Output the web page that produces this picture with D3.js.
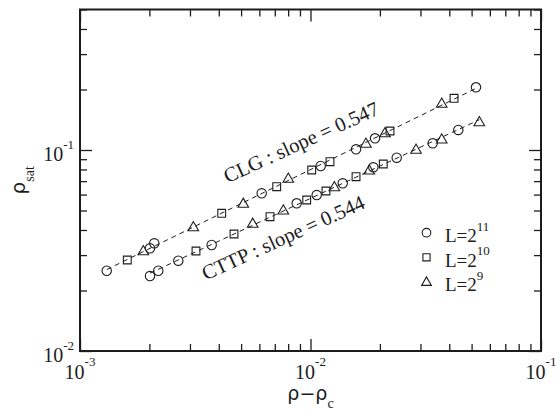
<!DOCTYPE html>
<html>
<head>
<meta charset="utf-8">
<script src="https://cdn.jsdelivr.net/npm/d3@7"></script>
<style>
  html, body { margin: 0; padding: 0; background: #fff; }
  svg { display: block; }
</style>
</head>
<body>
<svg id="chart" width="560" height="410"></svg>
<script>
// ---- data: saturation density vs distance from the critical point ----
// L codes: 11 -> L=2^11 (circle), 10 -> L=2^10 (square), 9 -> L=2^9 (triangle)
const clgX = [0.001306, 0.001604, 0.001882, 0.002012, 0.002100, 0.003102, 0.004118, 0.005110,
              0.006142, 0.007135, 0.008010, 0.01012, 0.01107, 0.01215, 0.01576, 0.01740,
              0.01905, 0.02104, 0.02213, 0.03709, 0.04195, 0.05224];
const clgY = [0.02508, 0.02836, 0.03155, 0.03243, 0.03434, 0.04154, 0.04843, 0.05429,
              0.06089, 0.06569, 0.07231, 0.07954, 0.08324, 0.08745, 0.1008, 0.1080,
              0.1143, 0.1219, 0.1243, 0.1708, 0.1808, 0.2050];
const clgL = [11, 10, 9, 11, 11, 9, 10, 9, 11, 10, 9, 10, 11, 10, 11, 9, 11, 9, 10, 9, 10, 11];

const cttpX = [0.002012, 0.002186, 0.002670, 0.003186, 0.003726, 0.004657, 0.005613, 0.006672,
               0.007621, 0.008712, 0.009627, 0.01064, 0.01167, 0.01269, 0.01380, 0.01576,
               0.01799, 0.01873, 0.02069, 0.02366, 0.02869, 0.03389, 0.03709, 0.04378, 0.05399];
const cttpY = [0.02360, 0.02508, 0.02813, 0.03144, 0.03368, 0.03821, 0.04318, 0.04658,
               0.05029, 0.05429, 0.05638, 0.05969, 0.06252, 0.06569, 0.06829, 0.07364,
               0.07954, 0.08203, 0.08519, 0.09155, 0.1008, 0.1080, 0.1134, 0.1258, 0.1383];
const cttpL = [11, 11, 11, 10, 11, 10, 9, 10, 9, 11, 10, 11, 10, 9, 11, 10, 9, 11, 10, 11, 9, 11, 9, 11, 9];

const fitLabels = ["CLG : slope = 0.547", "CTTP : slope = 0.544"];
const legendL = [11, 10, 9];

const xTickValues = [1e-3, 1e-2, 1e-1];
const xTickExps = ["-3", "-2", "-1"];
const yTickValues = [1e-2, 1e-1];
const yTickExps = ["-2", "-1"];

// ---- layout ----
const svg = d3.select("#chart");
const pLeft = 80, pRight = 541, pTop = 9.5, pBottom = 351;
const ink = "#1c1c1c";
const serif = "'Liberation Serif', 'Times New Roman', serif";
const sans = "'DejaVu Sans', 'Liberation Sans', sans-serif";

const x = d3.scaleLog().domain([1e-3, 1e-1]).range([pLeft, pRight]);
const y = d3.scaleLog().domain([1e-2, 0.5]).range([pBottom, pTop]);

const minors = (lo, hi) => {
  const out = [];
  for (let d = lo; d < hi; d *= 10)
    for (let k = 2; k <= 9; k++) out.push(k * d);
  return out;
};
const xMinor = minors(1e-3, 1e-1);
const yMinor = minors(1e-2, 1e-0).filter(v => v <= 0.5 + 1e-9);

// ---- ticks on all four sides, pointing inward ----
function drawAxis(axisFn, scale, transform, values, size) {
  const g = svg.append("g")
    .attr("transform", transform)
    .call(axisFn(scale).tickValues(values).tickSize(size).tickFormat(""));
  g.select(".domain").remove();
  g.selectAll(".tick line").attr("stroke", ink).attr("stroke-width", 1.3);
}
drawAxis(d3.axisBottom, x, `translate(0,${pBottom})`, xMinor, -7);
drawAxis(d3.axisBottom, x, `translate(0,${pBottom})`, xTickValues, -12);
drawAxis(d3.axisTop, x, `translate(0,${pTop})`, xMinor, -7);
drawAxis(d3.axisTop, x, `translate(0,${pTop})`, xTickValues, -12);
drawAxis(d3.axisLeft, y, `translate(${pLeft},0)`, yMinor, -7);
drawAxis(d3.axisLeft, y, `translate(${pLeft},0)`, yTickValues, -12);
drawAxis(d3.axisRight, y, `translate(${pRight},0)`, yMinor, -7);
drawAxis(d3.axisRight, y, `translate(${pRight},0)`, yTickValues, -12);

// frame
svg.append("rect")
  .attr("x", pLeft).attr("y", pTop)
  .attr("width", pRight - pLeft).attr("height", pBottom - pTop)
  .attr("fill", "none").attr("stroke", ink).attr("stroke-width", 2);

// ---- tick labels (powers of ten) ----
xTickValues.forEach((v, i) => {
  const t = svg.append("text")
    .attr("x", x(v)).attr("y", pBottom + 27.5)
    .attr("text-anchor", "middle")
    .attr("font-family", serif).attr("font-size", 20).attr("fill", ink);
  t.append("tspan").text("10");
  t.append("tspan").attr("font-size", 13).attr("dy", -13).text(xTickExps[i]);
});
yTickValues.forEach((v, i) => {
  const t = svg.append("text")
    .attr("x", pLeft - 6).attr("y", y(v) + 11)
    .attr("text-anchor", "end")
    .attr("font-family", serif).attr("font-size", 20).attr("fill", ink);
  t.append("tspan").text("10");
  t.append("tspan").attr("font-size", 13).attr("dy", -12).text(yTickExps[i]);
});

// ---- axis titles ----
const xt = svg.append("text")
  .attr("x", (pLeft + pRight) / 2).attr("y", 400)
  .attr("text-anchor", "middle")
  .attr("font-family", sans).attr("font-size", 19).attr("fill", ink);
xt.append("tspan").text("ρ−ρ");
xt.append("tspan").attr("font-family", serif).attr("font-size", 14).attr("dy", 8).text("c");

const yt = svg.append("text")
  .attr("transform", `translate(25,${(pTop + pBottom) / 2}) rotate(-90)`)
  .attr("text-anchor", "middle")
  .attr("font-family", sans).attr("font-size", 20).attr("fill", ink);
yt.append("tspan").text("ρ");
yt.append("tspan").attr("font-family", serif).attr("font-size", 14).attr("dy", 9).text("sat");

// ---- markers ----
function markerPath(L, cx, cy, s) {
  if (L === 11) {
    const r = 4.7 * s;
    return `M${cx + r},${cy}A${r},${r} 0 1,1 ${cx - r},${cy}A${r},${r} 0 1,1 ${cx + r},${cy}Z`;
  }
  if (L === 10) {
    const h = 3.9 * s;
    return `M${cx - h},${cy - h}H${cx + h}V${cy + h}H${cx - h}Z`;
  }
  const w = 5.3 * s, up = 5.2 * s, dn = 4 * s;
  return `M${cx - w},${cy + dn}L${cx + w},${cy + dn}L${cx},${cy - up}Z`;
}

// least-squares line in log-log space, drawn across the data range
function fitLine(xs, ys) {
  const lx = xs.map(Math.log10), ly = ys.map(Math.log10);
  const mx = d3.mean(lx), my = d3.mean(ly);
  const b = d3.sum(lx, (v, i) => (v - mx) * (ly[i] - my)) / d3.sum(lx, v => (v - mx) ** 2);
  const a = my - b * mx;
  const [x0, x1] = d3.extent(xs);
  return [[x0, 10 ** (a + b * Math.log10(x0))], [x1, 10 ** (a + b * Math.log10(x1))]];
}

const groups = [
  { xs: clgX, ys: clgY, Ls: clgL },
  { xs: cttpX, ys: cttpY, Ls: cttpL }
];

const line = d3.line().x(d => x(d[0])).y(d => y(d[1]));
groups.forEach(gr => {
  svg.append("path")
    .attr("d", line(fitLine(gr.xs, gr.ys)))
    .attr("fill", "none").attr("stroke", ink)
    .attr("stroke-width", 1).attr("stroke-dasharray", "5,4");
  svg.append("g").selectAll("path")
    .data(gr.xs.map((v, i) => ({ x: v, y: gr.ys[i], L: gr.Ls[i] })))
    .join("path")
    .attr("d", d => markerPath(d.L, x(d.x), y(d.y), 1))
    .attr("fill", "none").attr("stroke", ink).attr("stroke-width", 1.1);
});

// ---- fit annotations along each line ----
const annPos = [[304, 148.5], [286, 244]];
fitLabels.forEach((s, i) => {
  svg.append("text")
    .attr("transform", `translate(${annPos[i][0]},${annPos[i][1]}) rotate(-24.5)`)
    .attr("text-anchor", "middle")
    .attr("font-family", serif).attr("font-size", 20.5).attr("fill", ink)
    .text(s);
});

// ---- legend ----
const legY = [232.7, 257.3, 281.7];
legendL.forEach((L, i) => {
  svg.append("path")
    .attr("d", markerPath(L, 426.5, legY[i], 0.92))
    .attr("fill", "none").attr("stroke", ink).attr("stroke-width", 1.1);
  const t = svg.append("text")
    .attr("x", 445).attr("y", legY[i] + 9.5)
    .attr("font-family", serif).attr("font-size", 19).attr("fill", ink);
  t.append("tspan").text("L=2");
  t.append("tspan").attr("font-size", 13).attr("dy", -11.5).text(String(L));
});
</script>
</body>
</html>
